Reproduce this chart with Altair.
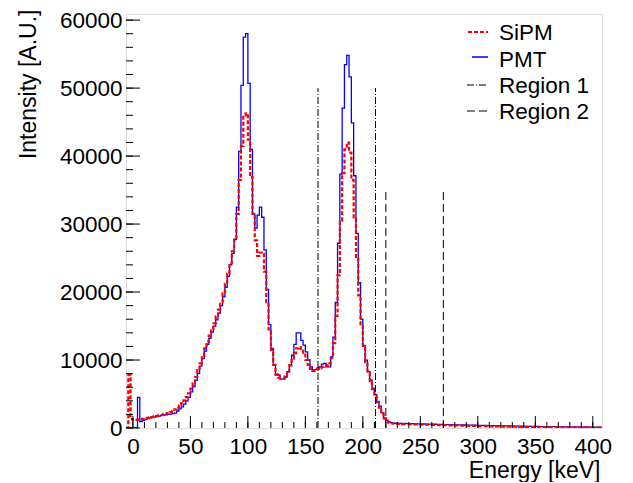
import altair as alt
import pandas as pd

# ---------------- data ----------------
bin_start = -6          # keV, left edge of first bin
bin_width = 2           # keV

# PMT counts per 2 keV bin (bins starting at -6, -4, ..., 406)
pmt = [
    0, 0, 0, 0, 0, 4500, 950, 1100, 1250, 1400,                       # -6 .. 12
    1500, 1550, 1600, 1700, 1750, 1850, 1900, 1950, 2000, 2050,       # 14 .. 32
    2100, 2200, 2500, 2800, 3100, 3500, 4000, 4500, 5300, 6100,       # 34 .. 52
    7000, 8000, 9100, 10200, 11300, 12300, 13200, 14100, 15000, 15900,  # 54 .. 72
    16900, 18000, 19300, 20700, 22300, 24000, 25700, 27700, 32500, 40700,  # 74 .. 92
    50400, 57500, 58000, 50700, 41000, 31500, 29400, 31300, 32500, 31000,  # 94 .. 112
    26200, 20400, 15200, 11700, 9300, 7800, 7800, 7200, 7200, 7500,   # 114 .. 132
    8300, 9300, 10700, 12300, 14000, 14000, 12900, 12200, 11200, 10000,  # 134 .. 152
    9000, 8500, 8600, 8800, 9000, 9400, 9500, 9000, 9000, 10470,      # 154 .. 172
    13370, 18460, 27180, 37350, 47050, 53440, 54800, 51640, 44870, 37110,  # 174 .. 192
    28630, 21370, 16030, 12160, 9980, 8280, 7080, 5860, 4900, 3920,   # 194 .. 212
    3200, 2220, 1500, 1120, 900, 780, 720, 700, 690, 675,             # 214 .. 232
    670, 660, 640, 645, 630, 615, 610, 600, 605, 590,                 # 234 .. 252
    580, 575, 560, 555, 550, 540, 530, 525, 510, 505,                 # 254 .. 272
    500, 490, 485, 470, 465, 455, 450, 440, 430, 425,                 # 274 .. 292
    415, 410, 400, 395, 385, 375, 370, 360, 355, 345,                 # 294 .. 312
    340, 330, 325, 315, 310, 300, 295, 290, 280, 275,                 # 314 .. 332
    270, 265, 255, 250, 245, 240, 235, 230, 225, 220,                 # 334 .. 352
    215, 210, 205, 200, 200, 195, 190, 185, 180, 180,                 # 354 .. 372
    175, 170, 170, 165, 160, 160, 155, 150, 150, 145,                 # 374 .. 392
    145, 140, 140, 135, 135, 130, 130,                                # 394 .. 406
]

# SiPM counts per 2 keV bin (same bins)
sipm = [
    0, 7800, 1300, 1150, 1200, 1250, 1300, 1350, 1400, 1500,          # -6 .. 12
    1550, 1600, 1700, 1750, 1850, 1900, 2000, 2100, 2200, 2350,       # 14 .. 32
    2500, 2750, 3000, 3300, 3650, 4050, 4550, 5100, 5800, 6600,       # 34 .. 52
    7500, 8500, 9500, 10600, 11700, 12700, 13600, 14500, 15400, 16400,  # 54 .. 72
    17400, 18500, 19800, 21200, 22700, 24300, 26000, 28000, 31500, 36500,  # 74 .. 92
    41500, 46000, 46300, 42400, 36900, 31500, 27600, 25300, 25800, 25600,  # 94 .. 112
    23000, 18500, 14500, 11500, 9300, 7900, 7400, 7300, 7300, 7600,   # 114 .. 132
    8300, 9200, 10200, 11000, 11700, 11900, 11400, 10800, 10000, 9300,  # 134 .. 152
    8700, 8400, 8500, 8700, 8800, 9000, 9100, 9200, 9500, 10300,      # 154 .. 172
    12500, 16500, 22500, 30500, 37500, 41000, 42000, 40500, 36500, 31000,  # 174 .. 192
    25000, 19500, 15000, 11800, 9700, 8100, 6900, 5700, 4700, 3800,   # 194 .. 212
    3000, 2100, 1400, 1000, 800, 700, 650, 620, 600, 590,             # 214 .. 232
    575, 570, 555, 550, 540, 530, 520, 510, 500, 495,                 # 234 .. 252
    485, 475, 470, 460, 450, 440, 430, 425, 415, 405,                 # 254 .. 272
    400, 390, 380, 375, 365, 355, 350, 340, 330, 325,                 # 274 .. 292
    315, 305, 300, 290, 285, 275, 270, 260, 255, 245,                 # 294 .. 312
    240, 235, 225, 220, 215, 205, 200, 195, 190, 185,                 # 314 .. 332
    180, 175, 170, 165, 160, 155, 150, 145, 140, 140,                 # 334 .. 352
    135, 130, 125, 125, 120, 115, 115, 110, 105, 105,                 # 354 .. 372
    100, 100, 95, 95, 90, 90, 85, 85, 80, 80,                         # 374 .. 392
    80, 75, 75, 70, 70, 70, 65,                                       # 394 .. 406
]

series_names = ["SiPM", "PMT"]
region_names = ["Region 1", "Region 2"]
region1_edges = [161, 211]
region1_top = 50000
region2_edges = [220, 270]
region2_top = 35000

x_domain = [-6, 408]
y_domain = [0, 60900]
x_major = list(range(0, 401, 50))
x_minor = list(range(0, 401, 10))
y_major = list(range(0, 60001, 10000))
y_minor = list(range(0, 60001, 2000))

# ---------------- styling ----------------
TOP = 6
W, H = 476, 420 - TOP
FONT = "Liberation Sans"
FS = 22.5
TFS = 23
RED = "#ff0000"
BLUE = "#0000ff"


def step_frame(vals):
    edges = [bin_start + i * bin_width for i in range(len(vals) + 1)]
    return pd.DataFrame({"E": edges, "I": list(vals) + [vals[-1]]})


xs = alt.Scale(domain=x_domain, nice=False, zero=False)
ys = alt.Scale(domain=y_domain, nice=False, zero=False)

x_axis = alt.Axis(
    values=x_major, format="d", ticks=False, domain=False, grid=False,
    labelFont=FONT, labelFontSize=FS, labelColor="black", labelPadding=7,
    labelFlush=False, labelOverlap=False,
    title="Energy [keV]", titleFont=FONT, titleFontSize=TFS, titleFontWeight="normal",
    titleColor="black", titleAnchor="end", titleAlign="right",
    titleBaseline="alphabetic", titleX=W - 2, titleY=49,
)
y_axis = alt.Axis(
    values=y_major, format="d", ticks=False, domain=False, grid=False,
    labelFont=FONT, labelFontSize=FS, labelColor="black", labelPadding=4,
    labelOverlap=False,
    title="Intensity [A.U.]", titleFont=FONT, titleFontSize=TFS, titleFontWeight="normal",
    titleColor="black", titleAnchor="end", titleAlign="right", titleAngle=270,
    titleBaseline="alphabetic", titleX=-91, titleY=1 - TOP,
)


def xenc(field):
    return alt.X(field, type="quantitative", scale=xs, axis=x_axis)


def yenc(field):
    return alt.Y(field, type="quantitative", scale=ys, axis=y_axis)


pmt_line = alt.Chart(step_frame(pmt)).mark_line(
    interpolate="step-after", color=BLUE, strokeWidth=1.3, clip=True
).encode(x=xenc("E"), y=yenc("I"))

sipm_line = alt.Chart(step_frame(sipm)).mark_line(
    interpolate="step-after", color=RED, strokeWidth=2.2, strokeDash=[4, 2], clip=True
).encode(x=xenc("E"), y=yenc("I"))

r1 = pd.DataFrame({"E": region1_edges, "lo": [0, 0], "hi": [region1_top] * 2})
r2 = pd.DataFrame({"E": region2_edges, "lo": [0, 0], "hi": [region2_top] * 2})
r1_rules = alt.Chart(r1).mark_rule(color="black", strokeWidth=1, strokeDash=[7, 2, 1, 2]).encode(
    x=xenc("E"), y=yenc("lo"), y2="hi")
r2_rules = alt.Chart(r2).mark_rule(color="black", strokeWidth=1, strokeDash=[8, 4]).encode(
    x=xenc("E"), y=yenc("lo"), y2="hi")

# inward ticks (ROOT style)
xt_major = alt.Chart(pd.DataFrame({"E": x_major})).mark_rule(color="black", strokeWidth=1).encode(
    x=xenc("E"), y=alt.value(H), y2=alt.value(H - 12))
xt_minor = alt.Chart(pd.DataFrame({"E": x_minor})).mark_rule(color="black", strokeWidth=1).encode(
    x=xenc("E"), y=alt.value(H), y2=alt.value(H - 6))
yt_major = alt.Chart(pd.DataFrame({"I": y_major})).mark_rule(color="black", strokeWidth=1).encode(
    y=yenc("I"), x=alt.value(0), x2=alt.value(14))
yt_minor = alt.Chart(pd.DataFrame({"I": y_minor})).mark_rule(color="black", strokeWidth=1).encode(
    y=yenc("I"), x=alt.value(0), x2=alt.value(7))

# manual legend (pixel positions inside the plot area)
one = pd.DataFrame({"k": [0]})
legend_layers = []
leg_styles = [
    (series_names[0], RED, 2.2, [4, 2], 342, 362, 24 - TOP, 32 - TOP),
    (series_names[1], BLUE, 1.3, [1, 0], 346, 362, 49 - TOP, 59 - TOP),
    (region_names[0], "black", 1, [7, 2, 1, 2], 341, 362, 77 - TOP, 85 - TOP),
    (region_names[1], "black", 1, [8, 4], 341, 362, 103 - TOP, 111 - TOP),
]
for label, col, sw, dash, xa, xb, ly, ty in leg_styles:
    legend_layers.append(
        alt.Chart(one).mark_rule(color=col, strokeWidth=sw, strokeDash=dash).encode(
            x=alt.value(xa), x2=alt.value(xb), y=alt.value(ly)))
    legend_layers.append(
        alt.Chart(one).mark_text(
            text=label, align="left", baseline="alphabetic", font=FONT, fontSize=FS, color="black"
        ).encode(x=alt.value(373), y=alt.value(ty)))

chart = alt.layer(
    pmt_line, sipm_line, r1_rules, r2_rules, xt_major, xt_minor, yt_major, yt_minor,
    *legend_layers
).properties(
    width=W, height=H,
    autosize=alt.AutoSizeParams(type="none"),
    padding={"left": 118, "top": TOP, "right": 23, "bottom": 54},
).configure_view(stroke="black", strokeWidth=1).configure(background="white")

chart.save("out.html", embed_options={"renderer": "svg", "actions": False})
